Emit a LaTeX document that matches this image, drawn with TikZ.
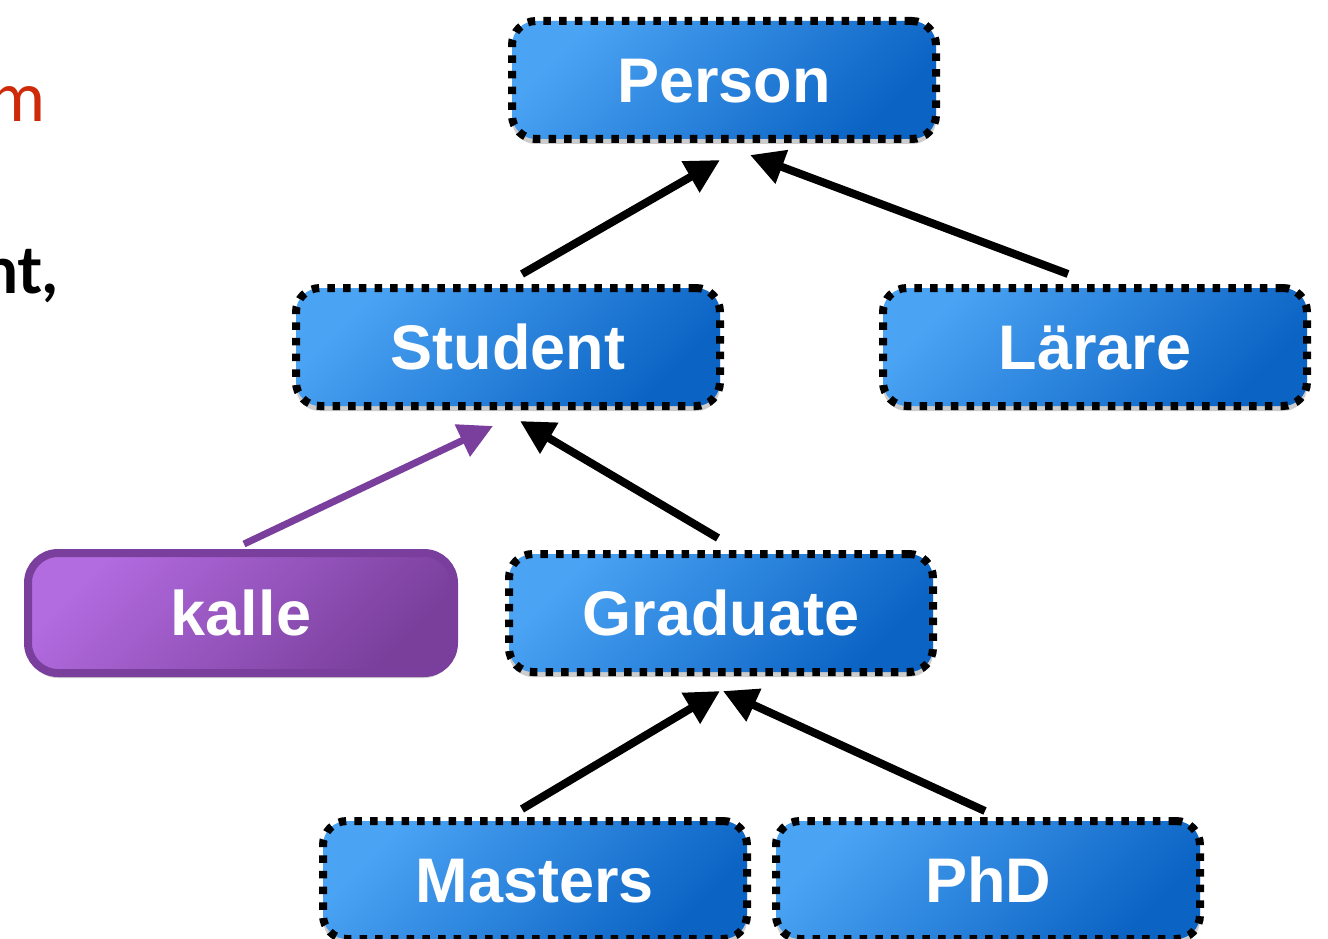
\documentclass[tikz,border=0pt]{standalone}
\usepackage{fontspec}
\setmainfont{Liberation Sans}
\newfontfamily\humanist{Lato}
\usetikzlibrary{arrows.meta,shadows,calc}
\definecolor{blueL}{HTML}{4AA3F3}
\definecolor{blueD}{HTML}{0B63C4}
\definecolor{purpL}{HTML}{B36BE0}
\definecolor{purpD}{HTML}{793F9B}
\definecolor{purpE}{HTML}{7A3F9D}
\definecolor{redtxt}{HTML}{CE2A0A}
\tikzset{
  boxtext/.style={text=white, font=\bfseries\fontsize{63}{63}\selectfont,
    text height=45pt, text depth=0pt, inner sep=0pt},
  cls/.style={boxtext, rounded corners=24pt, minimum width=424pt, minimum height=118pt,
    top color=blueL, bottom color=blueD, shading angle=45,
    draw=black, line width=8pt, dash pattern=on 7.5pt off 8.2pt,
    drop shadow={shadow xshift=0pt, shadow yshift=-5pt, opacity=0.2, fill=black}},
  obj/.style={boxtext, rounded corners=30pt, minimum width=426pt, minimum height=120pt,
    top color=purpL, bottom color=purpD, shading angle=45,
    draw=purpE, line width=8pt,
    drop shadow={shadow xshift=0pt, shadow yshift=-5pt, opacity=0.2, fill=black}},
  inh/.style={line width=8pt, -{Triangle[length=34pt, width=34pt]}},
  inst/.style={inh, draw=purpE, line width=7pt}
}
\begin{document}
\begin{tikzpicture}[x=1pt, y=-1pt]
  \useasboundingbox (0,0) rectangle (1328,939);
  \fill[white] (0,0) rectangle (1328,939);

  % text fragments at the left edge
  \node[anchor=base east, inner sep=0pt, text=redtxt,
        font=\humanist\fontsize{68}{68}\selectfont] (m) at (46,122) {m};
  \node[anchor=base east, inner sep=0pt,
        font=\humanist\bfseries\fontsize{66}{66}\selectfont] (nt) at (58,293) {nt,};

  % classes
  \node[cls] (pe) at (724,80)   {Person};
  \node[cls] (st) at (508,347)  {Student};
  \node[cls] (la) at (1095,347) {Lärare};
  \node[cls] (gr) at (721,613)  {Graduate};
  \node[cls] (ma) at (535,880)  {Masters};
  \node[cls] (ph) at (988,880)  {PhD};

  % object
  \node[obj] (ka) at (241,613)  {kalle};

  % inheritance
  \draw[inh] ($(st.north)+(14,-10)$) -- ($(pe.south)+(-4,17)$);
  \draw[inh] ($(la.north)+(-27,-10)$) -- ($(pe.south)+(26,12)$);
  \draw[inh] ($(gr.north)+(-3,-12)$) -- ($(st.south)+(12,11)$);
  \draw[inh] ($(ma.north)+(-13,-8)$) -- ($(gr.south)+(-1,15)$);
  \draw[inh] ($(ph.north)+(-3,-6)$) -- ($(gr.south)+(2,15)$);

  % instance of
  \draw[inst] ($(ka.north)+(3,-5)$) -- ($(st.south)+(-15,16)$);
\end{tikzpicture}
\end{document}
